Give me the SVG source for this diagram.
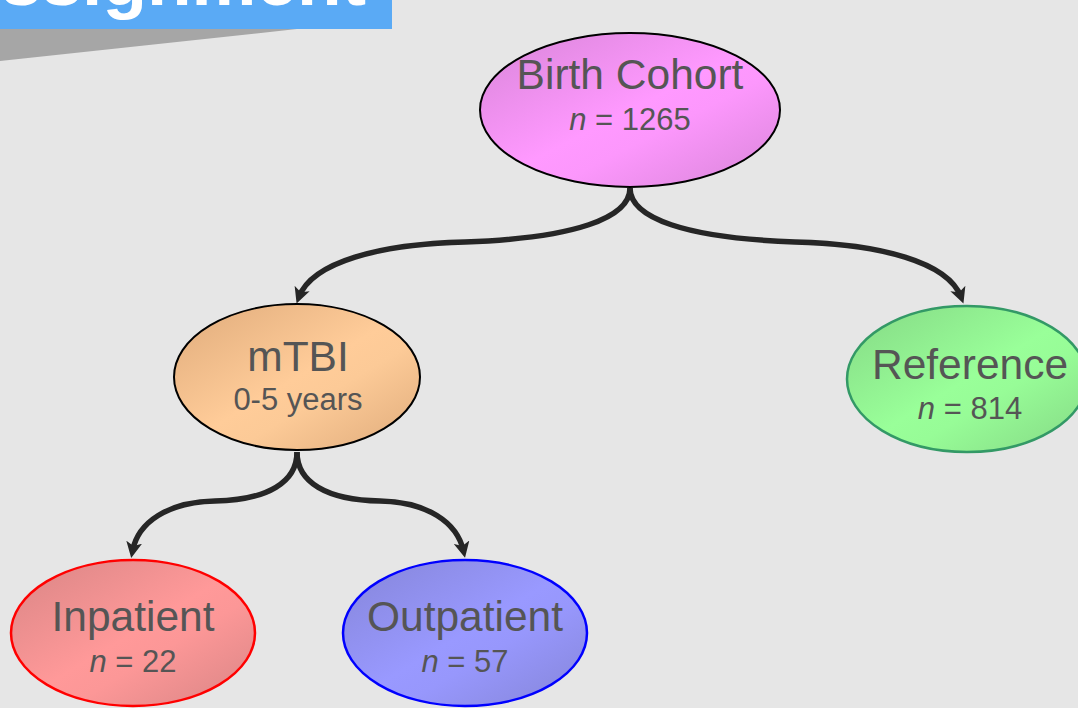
<svg xmlns="http://www.w3.org/2000/svg" width="1078" height="708" viewBox="0 0 1078 708">
<style>
.big{font-family:"Liberation Sans",Arial,sans-serif;font-size:42.5px;fill:#555;text-anchor:middle}
.small{font-family:"Liberation Sans",Arial,sans-serif;font-size:31px;fill:#555;text-anchor:middle}
.conn{fill:none;stroke:#262626;stroke-width:5.5}
.n{font-style:italic}
</style>
<defs>
<marker id="ah" markerUnits="userSpaceOnUse" markerWidth="17" markerHeight="16" refX="9" refY="8" orient="auto" viewBox="0 0 17 16">
<path d="M0,0 L16,8 L0,16 L4,8 z" fill="#262626"/>
</marker>
<linearGradient id="gPink" x1="0" y1="0" x2="1" y2="1"><stop offset="0" stop-color="#d885d8"/><stop offset="0.5" stop-color="#ff99ff"/><stop offset="0.62" stop-color="#fc97fc"/><stop offset="1" stop-color="#d885d8"/></linearGradient>
<linearGradient id="gOrange" x1="0" y1="0" x2="1" y2="1"><stop offset="0" stop-color="#dfab7b"/><stop offset="0.5" stop-color="#ffcc99"/><stop offset="0.62" stop-color="#fcca97"/><stop offset="1" stop-color="#dfab7b"/></linearGradient>
<linearGradient id="gGreen" x1="0" y1="0" x2="1" y2="1"><stop offset="0" stop-color="#85d885"/><stop offset="0.5" stop-color="#99ff99"/><stop offset="0.62" stop-color="#97fc97"/><stop offset="1" stop-color="#85d885"/></linearGradient>
<linearGradient id="gRed" x1="0" y1="0" x2="1" y2="1"><stop offset="0" stop-color="#d88585"/><stop offset="0.5" stop-color="#ff9999"/><stop offset="0.62" stop-color="#fc9797"/><stop offset="1" stop-color="#d88585"/></linearGradient>
<linearGradient id="gBlue" x1="0" y1="0" x2="1" y2="1"><stop offset="0" stop-color="#8585d8"/><stop offset="0.5" stop-color="#9999ff"/><stop offset="0.62" stop-color="#9797fc"/><stop offset="1" stop-color="#8585d8"/></linearGradient>
</defs>
<rect x="0" y="0" width="1078" height="708" fill="#e6e6e6"/>
<g id="banner">
<polygon points="0,29 297,29 0,61" fill="#a6a6a6"/>
<rect x="0" y="0" width="392" height="29" fill="#5aaaf5"/>
<text x="366" y="5" font-family="'Liberation Sans',Arial,sans-serif" font-size="73" font-weight="bold" fill="#ffffff" text-anchor="end">Assignment</text>
</g>
<g id="connectors">
<path class="conn" marker-end="url(#ah)" d="M630,188 C630,218 575,238 465,242 C380,244 312,262 299,297"/>
<path class="conn" marker-end="url(#ah)" d="M630,188 C630,218 685,238 795,242 C880,244 948,262 961,297"/>
<path class="conn" marker-end="url(#ah)" d="M297,452 C297,482 268,500 215,501 C168,502 138,522 132.5,551"/>
<path class="conn" marker-end="url(#ah)" d="M297,452 C297,482 326,500 380,501 C427,502 457,522 463.5,551"/>
</g>
<g id="birth-cohort">
<ellipse cx="630" cy="110" rx="150" ry="77" fill="url(#gPink)" stroke="#000" stroke-width="2"/>
<text class="big" x="630" y="89">Birth Cohort</text>
<text class="small" x="630" y="130"><tspan class="n">n</tspan> = 1265</text>
</g>
<g id="mtbi">
<ellipse cx="297" cy="377" rx="123" ry="73" fill="url(#gOrange)" stroke="#000" stroke-width="2"/>
<text class="big" x="298" y="371">mTBI</text>
<text class="small" x="298" y="410">0-5 years</text>
</g>
<g id="reference">
<ellipse cx="967" cy="379" rx="120" ry="73" fill="url(#gGreen)" stroke="#339966" stroke-width="2.5"/>
<text class="big" x="970" y="379">Reference</text>
<text class="small" x="970" y="419"><tspan class="n">n</tspan> = 814</text>
</g>
<g id="inpatient">
<ellipse cx="133" cy="633" rx="122" ry="73" fill="url(#gRed)" stroke="#ff0000" stroke-width="2.5"/>
<text class="big" x="133" y="631">Inpatient</text>
<text class="small" x="133" y="672"><tspan class="n">n</tspan> = 22</text>
</g>
<g id="outpatient">
<ellipse cx="465" cy="633" rx="122" ry="73" fill="url(#gBlue)" stroke="#0000ff" stroke-width="2.5"/>
<text class="big" x="465" y="631">Outpatient</text>
<text class="small" x="465" y="672"><tspan class="n">n</tspan> = 57</text>
</g>
</svg>
